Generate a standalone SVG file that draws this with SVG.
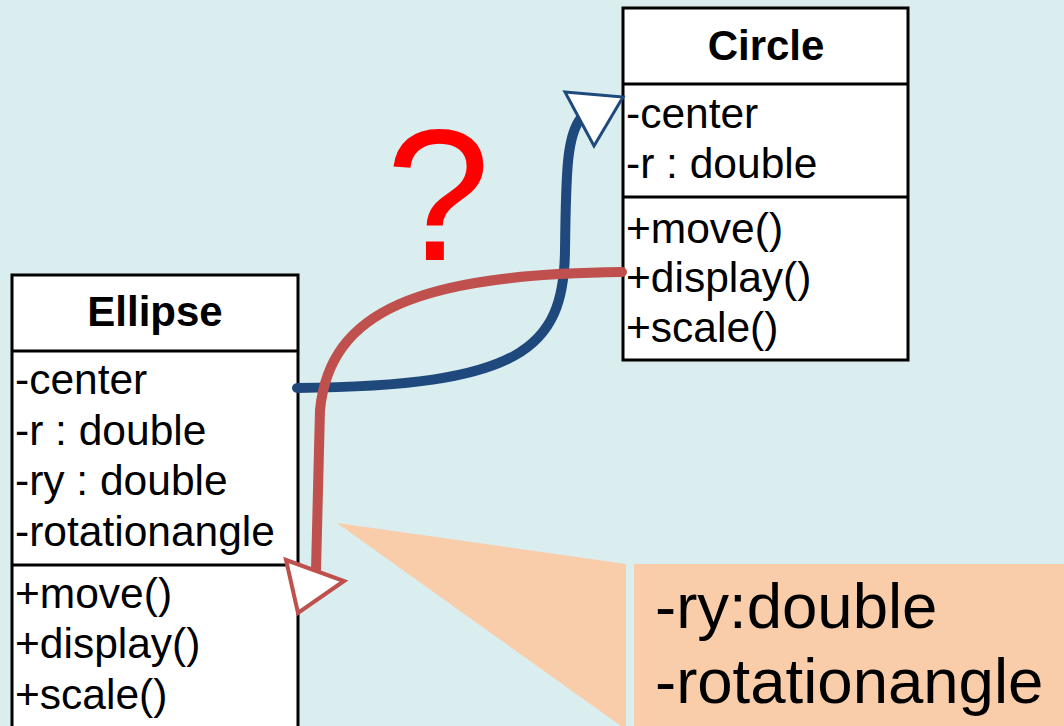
<svg xmlns="http://www.w3.org/2000/svg" width="1064" height="726" viewBox="0 0 1064 726">
<style>
.box{fill:#fff;stroke:#000;stroke-width:3}
.sep{stroke:#000;stroke-width:3}
.t{font-family:"Liberation Sans",Arial,sans-serif;font-size:42.5px;fill:#000}
.title{font-family:"Liberation Sans",Arial,sans-serif;font-size:42px;font-weight:bold;fill:#000;text-anchor:middle}
.call{font-family:"Liberation Sans",Arial,sans-serif;font-size:63.5px;fill:#000}
.blue{fill:none;stroke:#1F497D;stroke-width:10;stroke-linecap:round}
.red{fill:none;stroke:#C0504D;stroke-width:10;stroke-linecap:round}
</style>
<rect width="1064" height="726" fill="#DAEDEF"/>
<g id="callout">
<polygon points="337,523 626,564 626,726 621,726" fill="#F9CDAA"/>
<rect x="634" y="564" width="430" height="162" fill="#F9CDAA"/>
<text class="call" x="655" y="628">-ry:double</text>
<text class="call" x="655" y="703">-rotationangle</text>
</g>
<g id="ellipse">
<rect class="box" x="12" y="275" width="286" height="470"/>
<line class="sep" x1="12" y1="351" x2="298" y2="351"/>
<line class="sep" x1="12" y1="565" x2="298" y2="565"/>
<text class="title" x="155" y="326">Ellipse</text>
<text class="t" x="15" y="394">-center</text>
<text class="t" x="15" y="445">-r : double</text>
<text class="t" x="15" y="495">-ry : double</text>
<text class="t" x="15" y="546">-rotationangle</text>
<text class="t" x="15" y="608">+move()</text>
<text class="t" x="15" y="658">+display()</text>
<text class="t" x="15" y="709">+scale()</text>
</g>
<g id="circle">
<rect class="box" x="623" y="8" width="285" height="352"/>
<line class="sep" x1="623" y1="84" x2="908" y2="84"/>
<line class="sep" x1="623" y1="197" x2="908" y2="197"/>
<text class="title" x="766" y="60">Circle</text>
<text class="t" x="626" y="128">-center</text>
<text class="t" x="626" y="178">-r : double</text>
<text class="t" x="626" y="243">+move()</text>
<text class="t" x="626" y="292">+display()</text>
<text class="t" x="626" y="342">+scale()</text>
</g>
<g id="question">
<text x="438" y="260" font-family="Liberation Sans,Arial,sans-serif" font-size="188" fill="#FF0000" text-anchor="middle">?</text>
</g>
<g id="connectors">
<path class="blue" d="M297,388 C520,386 564,350 565,250 C566,170 567,135 581,118"/>
<polygon points="565,92 623,97 594,146" fill="#fff" stroke="#1F497D" stroke-width="3"/>
<path class="red" d="M622,272 C420,274 330,310 320,410 L316,570"/>
<polygon points="286,560 344,581 298,613" fill="#fff" stroke="#C0504D" stroke-width="4"/>
</g>
</svg>
